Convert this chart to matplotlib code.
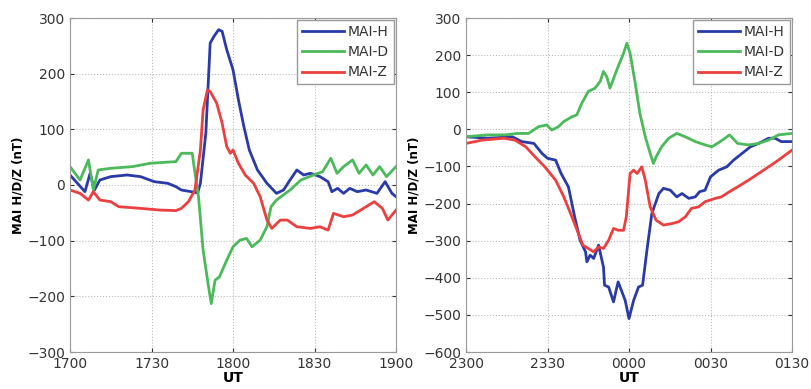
import matplotlib
matplotlib.use("Agg")
import matplotlib.pyplot as plt

# ---- Left panel (1700-1900 UT), minutes after 1700 ----
h1_t = [0, 5.5, 7.4, 9, 11, 15, 21, 26, 31, 36, 39, 41, 47, 48, 50, 51.6, 53, 54.7, 56, 57.7, 60, 62, 64, 66, 69, 72.5, 76, 78.6, 81, 83.5, 86, 88.5, 92, 95, 96.4, 98.5, 100.7, 103, 105.7, 109, 113, 116, 118.5, 120]
h1_v = [18, -12, 21, -9, 9, 15, 18, 15, 6, 3, -3, -9, -14, 3, 93, 255, 267, 279, 276, 243, 207, 153, 105, 63, 27, 3, -15, -9, 9, 27, 18, 21, 15, 6, -12, -6, -15, -6, -12, -9, -15, 6, -15, -21]

d1_t = [0, 3.7, 6.8, 8.6, 10.4, 15, 23, 29.5, 35.6, 39, 41, 45, 45.5, 47.3, 49, 51, 52, 53.4, 55, 57.7, 60, 62.6, 65, 67, 70, 72.5, 74, 76, 81, 85, 89.7, 93, 96, 98.3, 100.7, 104, 106.4, 109, 111.5, 114, 116.5, 120]
d1_v = [33, 9, 45, -9, 27, 30, 33, 39, 41, 42, 57, 57, 39, -21, -117, -183, -213, -171, -165, -135, -111, -99, -96, -111, -99, -75, -39, -27, -9, 9, 18, 24, 48, 21, 33, 45, 21, 36, 18, 33, 15, 33]

z1_t = [0, 3.7, 6.8, 8.6, 11, 15, 18, 26, 33, 39, 41, 43.6, 46, 48, 49, 50.6, 51.6, 54, 56, 57.7, 59, 60, 62, 64.5, 67.6, 70, 72.5, 74.3, 77.4, 80, 83.5, 88.5, 92, 95, 97, 100.7, 104, 108, 112, 115, 117, 120]
z1_v = [-9, -15, -27, -12, -27, -30, -39, -42, -45, -46, -42, -30, -9, 63, 135, 171, 168, 147, 111, 69, 57, 63, 39, 18, 3, -21, -63, -78, -63, -63, -75, -78, -75, -81, -51, -57, -54, -42, -30, -42, -63, -45]

# ---- Right panel (2300-0130 UT), minutes after 2300 ----
h2_t = [0, 8, 17, 20.5, 25, 28, 30, 33, 35, 37.7, 40, 42, 44, 44.5, 45.7, 47, 48.8, 50.6, 51, 52.5, 54.3, 56, 58.6, 60, 61.7, 63.5, 65, 66.6, 68.4, 71, 72.7, 75.2, 77.6, 79.5, 82, 84.4, 86, 88, 90, 93, 96, 98.5, 101.6, 104.7, 107.7, 111.4, 113.8, 116, 120]
h2_v = [-20, -24, -20, -33, -38, -65, -78, -83, -119, -155, -236, -299, -330, -357, -339, -348, -312, -371, -420, -425, -465, -411, -461, -510, -461, -425, -420, -326, -227, -173, -159, -164, -182, -173, -186, -182, -168, -164, -128, -110, -101, -83, -65, -47, -38, -24, -24, -33, -33]

d2_t = [0, 8, 14.4, 19, 23, 26.7, 29.7, 31.6, 34, 36, 39, 40.8, 42.6, 45, 47.5, 49.4, 50.6, 51.8, 53, 55.5, 58, 59.2, 60.4, 62.3, 64, 66, 67.8, 69, 70, 72, 74.6, 77.6, 80.7, 84.4, 88, 90.5, 93.6, 97, 100, 104, 107.7, 111.4, 115, 120]
d2_v = [-20, -15, -15, -11, -11, 7, 12, -2, 7, 21, 34, 39, 70, 102, 111, 129, 156, 142, 111, 160, 205, 232, 205, 124, 43, -20, -65, -92, -74, -47, -24, -11, -20, -33, -42, -47, -33, -15, -38, -42, -38, -29, -15, -11]

z2_t = [0, 6, 14, 18, 22, 25.4, 29, 33, 36, 39, 41.4, 43, 45, 47, 48.8, 50.6, 52.5, 54.3, 56, 58, 59, 60.4, 61.7, 63, 64.7, 66, 67.8, 70, 72.7, 75.8, 78.3, 80.7, 83, 85.6, 88, 91.8, 94, 97, 100, 104, 107.7, 111.4, 115, 120]
z2_v = [-38, -29, -24, -29, -47, -74, -101, -137, -182, -236, -281, -312, -321, -330, -317, -321, -299, -267, -272, -272, -236, -119, -110, -119, -101, -137, -209, -245, -258, -254, -249, -236, -213, -209, -195, -186, -182, -168, -155, -137, -119, -101, -83, -56]

left_ticks = [0, 30, 60, 90, 120]
left_ticklabels = ["1700", "1730", "1800", "1830", "1900"]
left_yticks = [-300, -200, -100, 0, 100, 200, 300]
right_ticks = [0, 30, 60, 90, 120]
right_ticklabels = ["2300", "2330", "0000", "0030", "0130"]
right_yticks = [-600, -500, -400, -300, -200, -100, 0, 100, 200, 300]

labels = ["MAI-H", "MAI-D", "MAI-Z"]
colors = ["#2a3aa8", "#4cb95a", "#ec3f3f"]

fig = plt.figure(figsize=(8.11, 3.89), dpi=100)
ax1 = fig.add_axes([70/811, 37/389, 326/811, 334/389])
ax2 = fig.add_axes([466/811, 37/389, 326/811, 334/389])

def style(ax, xt, xtl, yt, ylim):
    ax.set_xlim(0, 120)
    ax.set_ylim(*ylim)
    ax.set_xticks(xt)
    ax.set_xticklabels(xtl)
    ax.set_yticks(yt)
    ax.grid(True, linestyle=":", color="#bbbbbb", linewidth=0.8)
    ax.tick_params(direction="in", length=3, labelsize=10, colors="#333333",
                   top=True, right=True)
    for s in ax.spines.values():
        s.set_color("#999999")
        s.set_linewidth(0.8)
    ax.set_xlabel("UT", fontsize=10, fontweight="bold", labelpad=0)
    ax.set_ylabel("MAI H/D/Z (nT)", fontsize=8.5, fontweight="bold", labelpad=2)
    leg = ax.legend(loc="upper right", fontsize=10, handlelength=3.0,
                    handletextpad=0.3, borderpad=0.35, labelspacing=0.45,
                    fancybox=False, framealpha=1, borderaxespad=0.15)
    leg.get_frame().set_edgecolor("#999999")
    for t in leg.get_texts():
        t.set_color("#333333")

for t, v, lab, c in zip([h1_t, d1_t, z1_t], [h1_v, d1_v, z1_v], labels, colors):
    ax1.plot(t, v, color=c, linewidth=2, label=lab)
for t, v, lab, c in zip([h2_t, d2_t, z2_t], [h2_v, d2_v, z2_v], labels, colors):
    ax2.plot(t, v, color=c, linewidth=2, label=lab)

style(ax1, left_ticks, left_ticklabels, left_yticks, (-300, 300))
style(ax2, right_ticks, right_ticklabels, right_yticks, (-600, 300))

fig.savefig("out.png", dpi=100)
